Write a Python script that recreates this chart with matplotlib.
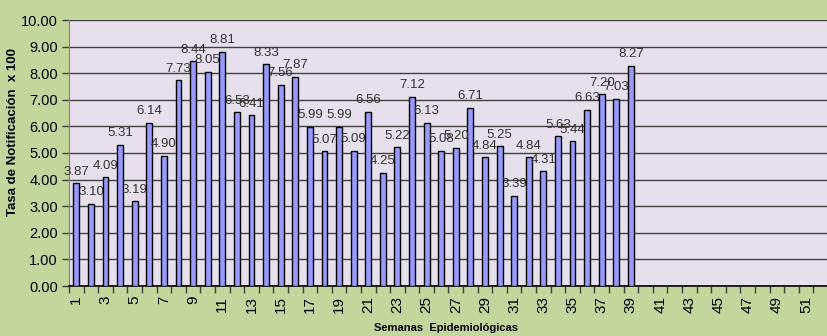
import matplotlib
matplotlib.use("Agg")
import matplotlib.pyplot as plt
import numpy as np

weeks = list(range(1, 53))
rates = [3.87, 3.10, 4.09, 5.31, 3.19, 6.14, 4.90, 7.73, 8.44, 8.05,
         8.81, 6.53, 6.41, 8.33, 7.56, 7.87, 5.99, 5.07, 5.99, 5.09,
         6.56, 4.25, 5.22, 7.12, 6.13, 5.08, 5.20, 6.71, 4.84, 5.25,
         3.39, 4.84, 4.31, 5.63, 5.44, 6.63, 7.20, 7.03, 8.27]
y_ticks = [0, 1, 2, 3, 4, 5, 6, 7, 8, 9, 10]

label_font = ["Liberation Sans Narrow", "Liberation Sans", "DejaVu Sans"]
plt.rcParams["font.family"] = ["Liberation Sans", "DejaVu Sans"]

W, H = 828, 336
fig = plt.figure(figsize=(W / 100, H / 100), dpi=100, facecolor="#C3D69B")
ax = fig.add_axes([69 / W, 1 - 286 / H, (W - 69) / W, (286 - 20) / H])
ax.set_facecolor("#E6E0EC")

x = np.arange(len(rates))
ax.bar(x, rates, width=0.4, color="#9999FF", edgecolor="black",
       linewidth=1.0, zorder=3)

for xi, v in zip(x, rates):
    ax.annotate(f"{v:.2f}", (xi, v), xytext=(0, 4), textcoords="offset points",
                ha="center", va="bottom", fontsize=9.5, color="#333333",
                family=label_font, zorder=4)

ax.set_xlim(-0.5, len(weeks) - 0.5)
ax.set_ylim(0, 10)
ax.set_yticks(y_ticks)
ax.set_yticklabels([f"{t:.2f}" for t in y_ticks], fontsize=10.5)
ax.yaxis.grid(True, color="#404040", linewidth=1.0, zorder=1)

# category boundary ticks, labels every other week
ax.set_xticks(np.arange(-0.5, len(weeks), 1.0), minor=False)
ax.set_xticklabels([])
ax.set_xticks(np.arange(0, len(weeks), 2), minor=True)
ax.set_xticklabels([str(w) for w in weeks[::2]], minor=True, rotation=90,
                   fontsize=11)
ax.tick_params(axis="x", which="major", length=5, width=1, color="#404040")
ax.tick_params(axis="x", which="minor", length=0, pad=7)
ax.tick_params(axis="y", length=5, width=1, color="#404040", pad=3)

for side in ["top", "right"]:
    ax.spines[side].set_visible(False)
ax.spines["left"].set_color("#808080")
ax.spines["bottom"].set_color("black")
ax.spines["bottom"].set_linewidth(1.2)

ax.set_ylabel("Tasa de Notificación  x 100", fontsize=9.5, fontweight="bold",
              va="center", ha="center")
ax.yaxis.set_label_coords(13 / W, 1 - 132 / H, transform=fig.transFigure)
ax.set_xlabel("Semanas  Epidemiológicas", fontsize=8, fontweight="bold",
              family=label_font, va="center", ha="center")
ax.xaxis.set_label_coords(446 / W, 1 - 328 / H, transform=fig.transFigure)

fig.savefig("out.png", dpi=100, facecolor=fig.get_facecolor())
